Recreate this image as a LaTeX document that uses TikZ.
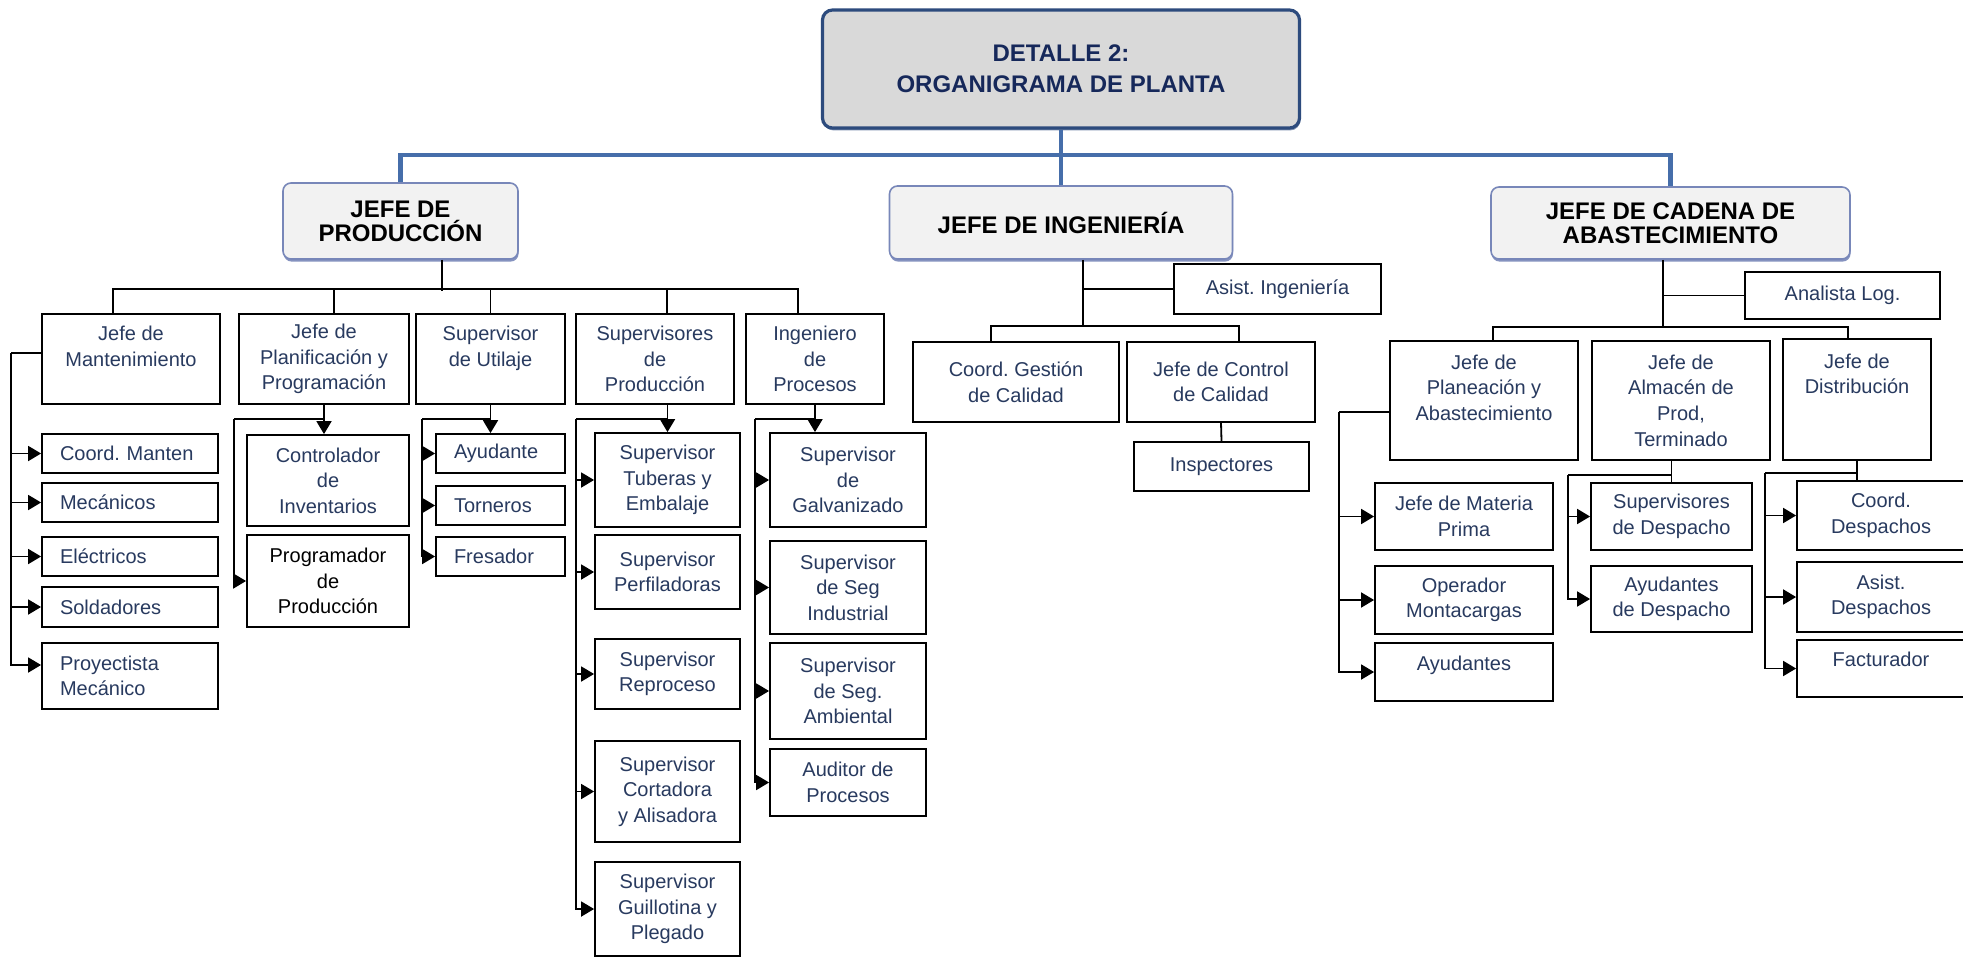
\documentclass[tikz,border=0pt]{standalone}
\usepackage{fontspec}
\setmainfont{Liberation Sans}
\usetikzlibrary{arrows.meta,shadows}
\frenchspacing

\definecolor{txtazul}{RGB}{40,58,95}
\definecolor{titazul}{RGB}{22,40,90}
\definecolor{titborde}{RGB}{45,75,125}
\definecolor{titfondo}{RGB}{217,217,217}
\definecolor{jefeborde}{RGB}{120,135,185}
\definecolor{jefefondo}{RGB}{242,242,242}
\definecolor{lineazul}{RGB}{70,110,170}

\tikzset{
    wh/.style 2 args={minimum width=#1*0.5pt, minimum height=#2*0.5pt},
    cargo/.style={draw, align=center, inner sep=2pt, text=txtazul, font=\fontsize{10}{12.8}\selectfont},
    hoja/.style={cargo, align=left, inner xsep=9pt},
    jefe/.style={draw=jefeborde, fill=jefefondo, rounded corners=4pt, line width=0.8pt, align=center,
        font=\bfseries\fontsize{12}{12}\selectfont,
        drop shadow={shadow xshift=0.3pt, shadow yshift=-1.3pt, fill=jefeborde, opacity=0.9}},
    titulo/.style={draw=titborde, fill=titfondo, rounded corners=5pt, line width=1.6pt, align=center,
        text=titazul, font=\bfseries\fontsize{12}{15.5}\selectfont,
        drop shadow={shadow xshift=0.4pt, shadow yshift=-1.2pt, fill=titborde, opacity=0.6}},
    azul/.style={draw=lineazul, line width=2.2pt}
}

\begin{document}
\begin{tikzpicture}[x=0.5pt, y=-0.5pt, >={Triangle[length=6.5pt, width=7.5pt]}, line width=0.9pt]

    \fill[white] (0,0) rectangle (1963,958);
    \useasboundingbox (0,0) rectangle (1963,958);
    \clip (0,0) rectangle (1963,958);

    % cabeceras
    \node[titulo, wh={477}{118}] (det) at (1061,69) {DETALLE 2:\\ORGANIGRAMA DE PLANTA};
    \node[jefe, wh={235}{76}] (prod) at (400.5,221) {JEFE DE\\PRODUCCIÓN};
    \node[jefe, wh={343}{73}] (inge) at (1061,222.5) {JEFE DE INGENIERÍA};
    \node[jefe, wh={359}{72}] (cadena) at (1670.5,223) {JEFE DE CADENA DE\\ABASTECIMIENTO};

    % produccion
    \node[cargo, wh={178}{90}] (mant) at (131,359) {Jefe de\\Mantenimiento\\~};
    \node[cargo, wh={170}{90}] (plan) at (324,359) {Jefe de\\Planificación y\\Programación};
    \node[cargo, wh={149}{90}] (util) at (490.5,359) {Supervisor\\de Utilaje\\~};
    \node[cargo, wh={158}{90}] (supv) at (655,359) {Supervisores\\de\\Producción};
    \node[cargo, wh={138}{90}] (ingp) at (815,359) {Ingeniero\\de\\Procesos};

    % mantenimiento
    \node[hoja, text width=70pt, minimum height=19.5pt] (cman) at (130,453.5) {Coord. Manten};
    \node[hoja, text width=70pt, minimum height=19.5pt] (meca) at (130,502.5) {Mecánicos};
    \node[hoja, text width=70pt, minimum height=19.5pt] (elec) at (130,556.5) {Eléctricos};
    \node[hoja, text width=70pt, minimum height=20pt] (sold) at (130,607) {Soldadores};
    \node[hoja, text width=70pt, minimum height=33pt] (proy) at (130,676) {Proyectista\\Mecánico};

    % planificacion
    \node[cargo, wh={162}{91}] (ctrl) at (328,480.5) {Controlador\\de\\Inventarios};
    \node[cargo, wh={162}{92}, text=black] (prog) at (328,581) {Programador\\de\\Producción};

    % utilaje
    \node[hoja, text width=46.5pt, minimum height=19.5pt] (ayud) at (500.5,453.5) {Ayudante};
    \node[hoja, text width=46.5pt, minimum height=19.5pt] (torn) at (500.5,505.5) {Torneros};
    \node[hoja, text width=46.5pt, minimum height=19.5pt] (fres) at (500.5,556.5) {Fresador};

    % supervisores de produccion
    \node[cargo, wh={145}{94}] (tube) at (667.5,480) {Supervisor\\Tuberas y\\Embalaje};
    \node[cargo, wh={145}{74}] (perf) at (667.5,572) {Supervisor\\Perfiladoras};
    \node[cargo, wh={145}{70}] (repr) at (667.5,674) {Supervisor\\Reproceso};
    \node[cargo, wh={145}{101}] (cort) at (667.5,791.5) {Supervisor\\Cortadora\\y Alisadora};
    \node[cargo, wh={145}{94}] (guil) at (667.5,909) {Supervisor\\Guillotina y\\Plegado};

    % ingeniero de procesos
    \node[cargo, wh={156}{94}] (galv) at (848,480) {Supervisor\\de\\Galvanizado};
    \node[cargo, wh={156}{93}] (sind) at (848,587.5) {Supervisor\\de Seg\\Industrial};
    \node[cargo, wh={156}{96}] (samb) at (848,691) {Supervisor\\de Seg.\\Ambiental};
    \node[cargo, wh={156}{67}] (audi) at (848,782.5) {Auditor de\\Procesos};

    % ingenieria
    \node[cargo, wh={207}{50}] (asis) at (1277.5,289) {Asist. Ingeniería};
    \node[cargo, wh={206}{80}] (cgest) at (1016,382) {Coord. Gestión\\de Calidad};
    \node[cargo, wh={188}{80}] (jctrl) at (1221,382) {Jefe de Control\\de Calidad};
    \node[cargo, wh={175}{49}] (insp) at (1221.5,466.5) {Inspectores};

    % cadena de abastecimiento
    \node[cargo, wh={195}{47}] (anal) at (1842.5,295.5) {Analista Log.};
    \node[cargo, wh={188}{119}] (jplan) at (1484,400.5) {Jefe de\\Planeación y\\Abastecimiento\\~};
    \node[cargo, wh={178}{119}] (jalm) at (1681,400.5) {Jefe de\\Almacén de\\Prod,\\Terminado};
    \node[cargo, wh={148}{121}] (jdist) at (1857,399.5) {Jefe de\\Distribución\\~\\~};
    \node[cargo, wh={178}{67}] (jmat) at (1464,516.5) {Jefe de Materia\\Prima};
    \node[cargo, wh={178}{68}] (opmo) at (1464,600) {Operador\\Montacargas};
    \node[cargo, wh={178}{58}] (ayus) at (1464,672) {Ayudantes\\[-4pt]~};
    \node[cargo, wh={161}{67}] (sdes) at (1671.5,516.5) {Supervisores\\de Despacho};
    \node[cargo, wh={161}{66}] (ades) at (1671.5,599) {Ayudantes\\de Despacho};
    \node[cargo, wh={168}{69}] (cdes) at (1881,515.5) {Coord.\\Despachos};
    \node[cargo, wh={168}{70}] (adesp) at (1881,597) {Asist.\\Despachos};
    \node[cargo, wh={168}{57}] (fact) at (1881,668.5) {Facturador\\[-4pt]~};

    % lineas azules
    \draw[azul] (det.south) -- (inge.north);
    \draw[azul] (prod.north) -- ++(0,-27) -| (cadena.north);

    % lineas de produccion
    \draw ([xshift=20.75pt]prod.south) -- ++(0,31);
    \draw ([xshift=-9pt]mant.north) -- ++(0,-24) -| ([xshift=-8.5pt]ingp.north);
    \draw ([xshift=5pt]plan.north) -- ++(0,-24);
    \draw (util.north) -- ++(0,-24);
    \draw ([xshift=6pt]supv.north) -- ++(0,-24);

    % mantenimiento
    \draw ([yshift=3pt]mant.west) -- ++(-30,0) coordinate (m0);
    \foreach \n in {cman,meca,elec,sold}
        \draw[->] (m0) |- (\n.west);
    \draw[->] (m0) |- ([yshift=5.5pt]proy.west);

    % planificacion
    \draw[->] (plan.south) -- (plan.south |- ctrl.north);
    \draw (plan.south) ++(0,14) -- ++(-90,0) coordinate (p0);
    \draw[->] (p0) |- (prog.west);

    % utilaje
    \draw[->] (util.south) -- (util.south |- ayud.north);
    \draw (util.south) ++(0,14) -- ++(-68.5,0) coordinate (u0);
    \foreach \n in {ayud,torn,fres}
        \draw[->] (u0) |- (\n.west);

    % supervisores de produccion
    \draw[->] (supv.south -| tube.north) -- (tube.north);
    \draw (supv.south -| tube.north) ++(0,14) -- ++(-91.5,0) coordinate (s0);
    \foreach \n in {tube,perf,repr,cort,guil}
        \draw[->] (s0) |- (\n.west);

    % ingeniero de procesos
    \draw[->] (ingp.south) -- (ingp.south |- galv.north);
    \draw (ingp.south) ++(0,14) -- ++(-60,0) coordinate (i0);
    \foreach \n in {galv,sind,samb,audi}
        \draw[->] (i0) |- (\n.west);

    % ingenieria
    \draw ([xshift=11pt]inge.south) -- ++(0,66) coordinate (e0);
    \draw (e0 |- asis.west) -- (asis.west);
    \draw ([xshift=-12.5pt]cgest.north) |- (e0) -| ([xshift=9pt]jctrl.north);
    \draw (jctrl.south) -- (insp.north);

    % cadena de abastecimiento
    \draw ([xshift=-3.75pt]cadena.south) -- ++(0,67) coordinate (c0);
    \draw (c0 |- anal.west) -- (anal.west);
    \draw ([xshift=4.5pt]jplan.north) |- (c0) -| ([xshift=-4.5pt]jdist.north);

    % planeacion
    \draw ([yshift=-5.75pt]jplan.west) -- ++(-50,0) coordinate (j0);
    \foreach \n in {jmat,opmo,ayus}
        \draw[->] (j0) |- (\n.west);

    % almacen
    \draw (jalm.south -| sdes.north) -- (sdes.north);
    \draw (jalm.south -| sdes.north) ++(0,14) -- ++(-103.5,0) coordinate (a0);
    \foreach \n in {sdes,ades}
        \draw[->] (a0) |- (\n.west);

    % distribucion
    \draw (jdist.south) -- (jdist.south |- cdes.north);
    \draw (jdist.south) ++(0,12) -- ++(-92,0) coordinate (d0);
    \foreach \n in {cdes,adesp,fact}
        \draw[->] (d0) |- (\n.west);

\end{tikzpicture}
\end{document}
